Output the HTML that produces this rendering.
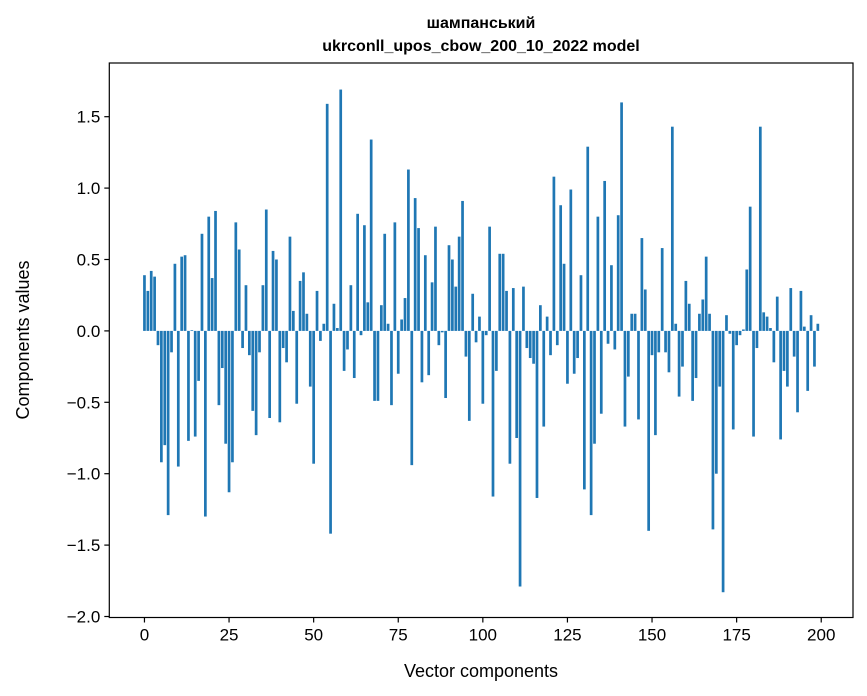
<!DOCTYPE html>
<html><head><meta charset="utf-8"><style>
body{margin:0;background:#fff;}
svg{display:block;font-family:"Liberation Sans","DejaVu Sans",sans-serif;}
</style></head><body>
<svg id="chart" width="867" height="696">
<text x="481" y="28" text-anchor="middle" font-size="16" font-weight="bold">шампанський</text>
<text x="481" y="51" text-anchor="middle" font-size="16" font-weight="bold">ukrconll_upos_cbow_200_10_2022 model</text>
<g id="bars"></g>
<rect x="109.3" y="63" width="743.7" height="554.5" fill="none" stroke="#000" stroke-width="1.2"/>
<g id="yticks"></g>
<g id="xticks"></g>
<text x="481" y="677" text-anchor="middle" font-size="18">Vector components</text>
<text transform="translate(29,340) rotate(-90)" text-anchor="middle" font-size="18">Components values</text>
</svg>
<script>
const values = [0.39,0.28,0.42,0.38,-0.10,-0.92,-0.80,-1.29,-0.15,0.47,
-0.95,0.52,0.53,-0.77,0.005,-0.74,-0.35,0.68,-1.30,0.80,
0.37,0.84,-0.52,-0.26,-0.79,-1.13,-0.92,0.76,0.57,-0.12,
0.32,-0.17,-0.56,-0.73,-0.15,0.32,0.85,-0.61,0.56,0.50,
-0.64,-0.12,-0.22,0.66,0.14,-0.51,0.35,0.41,0.12,-0.39,
-0.93,0.28,-0.07,0.05,1.59,-1.42,0.19,0.02,1.69,-0.28,
-0.13,0.32,-0.33,0.82,-0.03,0.74,0.20,1.34,-0.49,-0.49,
0.18,0.68,0.05,-0.52,0.76,-0.30,0.08,0.23,1.13,-0.94,
0.93,0.72,-0.36,0.53,-0.31,0.34,0.73,-0.10,-0.01,-0.47,
0.60,0.50,0.31,0.66,0.91,-0.18,-0.63,0.26,-0.08,0.10,
-0.51,-0.03,0.73,-1.16,-0.28,0.54,0.54,0.28,-0.93,0.30,
-0.75,-1.79,0.31,-0.12,-0.19,-0.23,-1.17,0.18,-0.67,0.10,
-0.17,1.08,-0.10,0.88,0.47,-0.37,0.99,-0.30,-0.19,0.39,
-1.11,1.29,-1.29,-0.79,0.80,-0.58,1.05,-0.09,0.46,-0.13,
0.81,1.60,-0.67,-0.32,0.12,0.12,-0.62,0.65,0.29,-1.40,
-0.17,-0.73,-0.15,0.58,-0.15,-0.29,1.43,0.05,-0.46,-0.25,
0.35,0.19,-0.49,-0.33,0.12,0.22,0.52,0.12,-1.39,-1.00,
-0.39,-1.83,0.11,-0.02,-0.69,-0.10,-0.03,0.01,0.43,0.87,
-0.74,-0.12,1.43,0.13,0.10,0.02,-0.22,0.24,-0.76,-0.28,
-0.39,0.30,-0.18,-0.57,0.28,0.03,-0.42,0.11,-0.25,0.05];
const yTickValues = [-2.0,-1.5,-1.0,-0.5,0.0,0.5,1.0,1.5];
const xTickValues = [0,25,50,75,100,125,150,175,200];

const NS = "http://www.w3.org/2000/svg";
const pL=109.3,pR=853,pT=63,pB=617.5;
const xMin=-10.39,xMax=209.39,yMin=-2.007,yMax=1.876;
function xs(v){return pL+(v-xMin)/(xMax-xMin)*(pR-pL);}
function ys(v){return pT+(yMax-v)/(yMax-yMin)*(pB-pT);}
function mk(tag,attrs){const e=document.createElementNS(NS,tag);for(const k in attrs)e.setAttribute(k,attrs[k]);return e;}

const barsG=document.getElementById('bars');
values.forEach((v,i)=>{
  const x0=xs(i-0.4),x1=xs(i+0.4);
  const y0=ys(Math.max(v,0)),y1=ys(Math.min(v,0));
  const r=mk('rect',{x:x0,y:y0,width:x1-x0,height:Math.max(y1-y0,0.3),fill:'#1f77b4'});
  
  
  barsG.appendChild(r);
});
const yg=document.getElementById('yticks');
yTickValues.forEach(t=>{
  const y=ys(t);
  const l=mk('line',{x1:pL-5,x2:pL,y1:y,y2:y,stroke:'#000','stroke-width':1.2});
  
  
  yg.appendChild(l);
  const tx=mk('text',{x:pL-9,y:y+6,'text-anchor':'end','font-size':17});
  
  
  tx.textContent=(t<0?'\u2212':'')+Math.abs(t).toFixed(1);
  yg.appendChild(tx);
});
const xg=document.getElementById('xticks');
xTickValues.forEach(t=>{
  const x=xs(t);
  const l=mk('line',{x1:x,x2:x,y1:pB,y2:pB+5,stroke:'#000','stroke-width':1.2});
  
  
  xg.appendChild(l);
  const tx=mk('text',{x:x,y:pB+23,'text-anchor':'middle','font-size':17});
  
  
  tx.textContent=String(t);
  xg.appendChild(tx);
});
</script>
</body></html>
